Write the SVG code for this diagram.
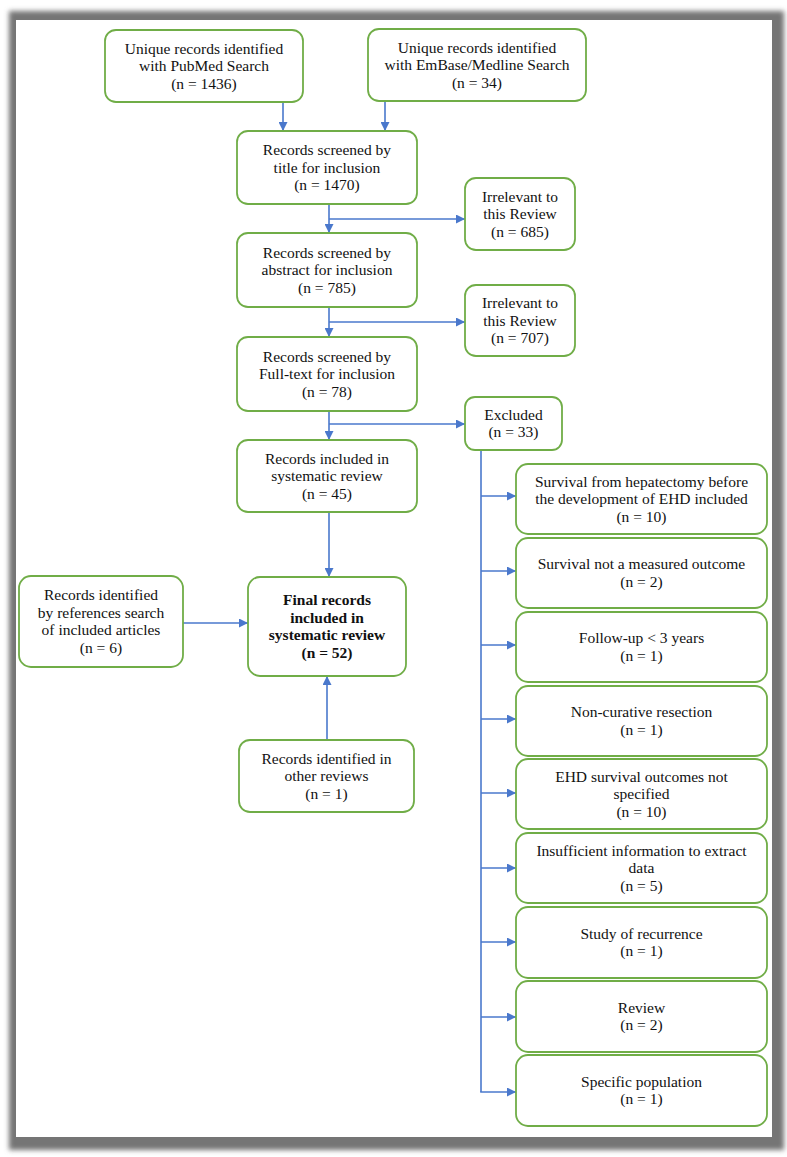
<svg xmlns="http://www.w3.org/2000/svg" width="787" height="1157" viewBox="0 0 787 1157">
<defs>
<style>
.box{fill:#ffffff;stroke:#70ad47;stroke-width:1.8}
.t{font-family:"Liberation Serif","Times New Roman",serif;font-size:15.5px;fill:#111;text-anchor:middle}
.b{font-weight:bold}
.c{stroke:#4a78cc;stroke-width:1.6;fill:none}
</style>
<marker id="ah" viewBox="0 0 10 10" refX="10" refY="5" markerWidth="9" markerHeight="9" markerUnits="userSpaceOnUse" orient="auto">
<path d="M0,0 L10,5 L0,10 z" fill="#4a78cc"/>
</marker>
<filter id="sh" x="-5%" y="-5%" width="110%" height="110%">
<feGaussianBlur stdDeviation="2.5"/>
</filter>
</defs>
<rect x="0" y="0" width="787" height="1157" fill="#ffffff"/>
<rect x="9" y="11" width="775" height="1139" fill="#747474" filter="url(#sh)"/>
<rect x="16" y="20" width="756" height="1117" fill="#ffffff"/>

<g id="connectors">
<line class="c" x1="283" y1="102" x2="283" y2="131" marker-end="url(#ah)"/>
<line class="c" x1="385" y1="101" x2="385" y2="131" marker-end="url(#ah)"/>
<line class="c" x1="329" y1="204" x2="329" y2="233" marker-end="url(#ah)"/>
<line class="c" x1="329" y1="219" x2="465" y2="219" marker-end="url(#ah)"/>
<line class="c" x1="329" y1="307" x2="329" y2="337" marker-end="url(#ah)"/>
<line class="c" x1="329" y1="322" x2="465" y2="322" marker-end="url(#ah)"/>
<line class="c" x1="329" y1="411" x2="329" y2="440" marker-end="url(#ah)"/>
<line class="c" x1="329" y1="424" x2="465" y2="424" marker-end="url(#ah)"/>
<line class="c" x1="329" y1="512" x2="329" y2="577" marker-end="url(#ah)"/>
<line class="c" x1="183" y1="623" x2="248" y2="623" marker-end="url(#ah)"/>
<line class="c" x1="327" y1="740" x2="327" y2="676" marker-end="url(#ah)"/>
<line class="c" x1="481" y1="450" x2="481" y2="1092"/>
<line class="c" x1="481" y1="496" x2="516" y2="496" marker-end="url(#ah)"/>
<line class="c" x1="481" y1="571" x2="516" y2="571" marker-end="url(#ah)"/>
<line class="c" x1="481" y1="645" x2="516" y2="645" marker-end="url(#ah)"/>
<line class="c" x1="481" y1="719" x2="516" y2="719" marker-end="url(#ah)"/>
<line class="c" x1="481" y1="793" x2="516" y2="793" marker-end="url(#ah)"/>
<line class="c" x1="481" y1="868" x2="516" y2="868" marker-end="url(#ah)"/>
<line class="c" x1="481" y1="942" x2="516" y2="942" marker-end="url(#ah)"/>
<line class="c" x1="481" y1="1017" x2="516" y2="1017" marker-end="url(#ah)"/>
<line class="c" x1="480.2" y1="1092" x2="516" y2="1092" marker-end="url(#ah)"/>
</g>

<g id="pubmed">
<rect class="box" x="105" y="30" width="198" height="72" rx="11"/>
<text class="t" x="204" y="53.5">Unique records identified</text>
<text class="t" x="204" y="71">with PubMed Search</text>
<text class="t" x="204" y="88.5">(n = 1436)</text>
</g>
<g id="embase">
<rect class="box" x="368" y="29" width="218" height="72" rx="11"/>
<text class="t" x="477" y="52.5">Unique records identified</text>
<text class="t" x="477" y="70">with EmBase/Medline Search</text>
<text class="t" x="477" y="87.5">(n = 34)</text>
</g>
<g id="title">
<rect class="box" x="237" y="131" width="180" height="73" rx="11"/>
<text class="t" x="327" y="155">Records screened by</text>
<text class="t" x="327" y="172.5">title for inclusion</text>
<text class="t" x="327" y="190">(n = 1470)</text>
</g>
<g id="irrelevant1">
<rect class="box" x="465" y="178" width="110" height="72" rx="11"/>
<text class="t" x="520" y="201.5">Irrelevant to</text>
<text class="t" x="520" y="219">this Review</text>
<text class="t" x="520" y="236.5">(n = 685)</text>
</g>
<g id="abstract">
<rect class="box" x="237" y="233" width="180" height="74" rx="11"/>
<text class="t" x="327" y="257.5">Records screened by</text>
<text class="t" x="327" y="275">abstract for inclusion</text>
<text class="t" x="327" y="292.5">(n = 785)</text>
</g>
<g id="irrelevant2">
<rect class="box" x="465" y="285" width="110" height="71" rx="11"/>
<text class="t" x="520" y="308">Irrelevant to</text>
<text class="t" x="520" y="325.5">this Review</text>
<text class="t" x="520" y="343">(n = 707)</text>
</g>
<g id="fulltext">
<rect class="box" x="237" y="337" width="180" height="74" rx="11"/>
<text class="t" x="327" y="361.5">Records screened by</text>
<text class="t" x="327" y="379">Full-text for inclusion</text>
<text class="t" x="327" y="396.5">(n = 78)</text>
</g>
<g id="excluded">
<rect class="box" x="465" y="397" width="97" height="53" rx="10"/>
<text class="t" x="513.5" y="419.75">Excluded</text>
<text class="t" x="513.5" y="437.25">(n = 33)</text>
</g>
<g id="included45">
<rect class="box" x="237" y="440" width="180" height="72" rx="11"/>
<text class="t" x="327" y="463.5">Records included in</text>
<text class="t" x="327" y="481">systematic review</text>
<text class="t" x="327" y="498.5">(n = 45)</text>
</g>
<g id="final">
<rect class="box" x="248" y="577" width="158" height="99" rx="12"/>
<text class="t b" x="327" y="605.25">Final records</text>
<text class="t b" x="327" y="622.75">included in</text>
<text class="t b" x="327" y="640.25">systematic review</text>
<text class="t b" x="327" y="657.75">(n = 52)</text>
</g>
<g id="references">
<rect class="box" x="19" y="576" width="164" height="91" rx="12"/>
<text class="t" x="101" y="600.25">Records identified</text>
<text class="t" x="101" y="617.75">by references search</text>
<text class="t" x="101" y="635.25">of included articles</text>
<text class="t" x="101" y="652.75">(n = 6)</text>
</g>
<g id="otherreviews">
<rect class="box" x="239" y="740" width="175" height="72" rx="11"/>
<text class="t" x="326.5" y="763.5">Records identified in</text>
<text class="t" x="326.5" y="781">other reviews</text>
<text class="t" x="326.5" y="798.5">(n = 1)</text>
</g>
<g id="ex1">
<rect class="box" x="516" y="464" width="251" height="70" rx="12"/>
<text class="t" x="641.5" y="486.5">Survival from hepatectomy before</text>
<text class="t" x="641.5" y="504">the development of EHD included</text>
<text class="t" x="641.5" y="521.5">(n = 10)</text>
</g>
<g id="ex2">
<rect class="box" x="516" y="538" width="251" height="70" rx="12"/>
<text class="t" x="641.5" y="569.25">Survival not a measured outcome</text>
<text class="t" x="641.5" y="586.75">(n = 2)</text>
</g>
<g id="ex3">
<rect class="box" x="516" y="612" width="251" height="70" rx="12"/>
<text class="t" x="641.5" y="643.25">Follow-up &lt; 3 years</text>
<text class="t" x="641.5" y="660.75">(n = 1)</text>
</g>
<g id="ex4">
<rect class="box" x="516" y="686" width="251" height="70" rx="12"/>
<text class="t" x="641.5" y="717.25">Non-curative resection</text>
<text class="t" x="641.5" y="734.75">(n = 1)</text>
</g>
<g id="ex5">
<rect class="box" x="516" y="759" width="251" height="70" rx="12"/>
<text class="t" x="641.5" y="781.5">EHD survival outcomes not</text>
<text class="t" x="641.5" y="799">specified</text>
<text class="t" x="641.5" y="816.5">(n = 10)</text>
</g>
<g id="ex6">
<rect class="box" x="516" y="833" width="251" height="70" rx="12"/>
<text class="t" x="641.5" y="855.5">Insufficient information to extract</text>
<text class="t" x="641.5" y="873">data</text>
<text class="t" x="641.5" y="890.5">(n = 5)</text>
</g>
<g id="ex7">
<rect class="box" x="516" y="907" width="251" height="71" rx="12"/>
<text class="t" x="641.5" y="938.75">Study of recurrence</text>
<text class="t" x="641.5" y="956.25">(n = 1)</text>
</g>
<g id="ex8">
<rect class="box" x="516" y="981" width="251" height="71" rx="12"/>
<text class="t" x="641.5" y="1012.75">Review</text>
<text class="t" x="641.5" y="1030.25">(n = 2)</text>
</g>
<g id="ex9">
<rect class="box" x="516" y="1055" width="251" height="71" rx="12"/>
<text class="t" x="641.5" y="1086.75">Specific population</text>
<text class="t" x="641.5" y="1104.25">(n = 1)</text>
</g>
</svg>
